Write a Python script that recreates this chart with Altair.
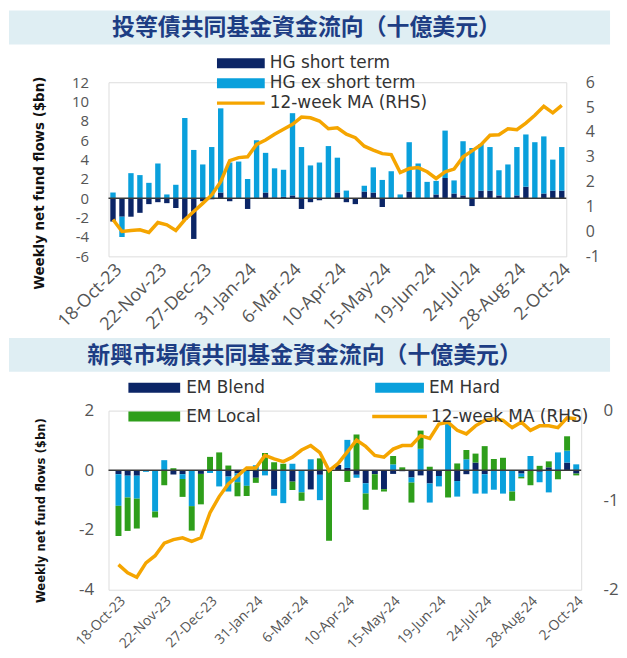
import altair as alt
import pandas as pd

# ---------------- data ----------------
dates = pd.date_range("2023-10-18", periods=51, freq="7D")
date_labels = [f"{d.day}-{d.strftime('%b')}-{d.strftime('%y')}" for d in dates]
tick_labels = date_labels[::5]

hg_short = [-2.4, -1.9, -1.9, -1.5, -0.6, -0.4, -0.5, -1.0, -2.2, -4.2,
            -0.3, -0.1, 0.6, -0.3, 0.0, -1.1, 0.0, 0.6, 0.1, 0.15,
            0.3, -1.1, -0.4, -0.2, 0.0, 0.6, -0.4, -0.6, 0.7, 0.6,
            -0.9, 0.0, 0.0, 0.7, 0.0, 0.0, 0.4, 2.1, 0.5, 0.3,
            -0.8, 0.8, 0.8, 0.3, 0.0, 0.3, 1.2, 0.0, 0.5, 0.8, 0.8]
hg_ex = [0.6, -2.1, 2.6, 2.4, 1.6, 3.6, 0.4, 1.4, 8.3, 5.0,
         3.5, 5.3, 8.7, 3.7, 3.8, 2.0, 6.0, 4.1, 3.0, 2.8,
         8.5, 5.3, 3.4, 3.7, 5.4, 3.6, 0.8, 0.0, 0.6, 2.6,
         1.9, 2.8, 0.4, 5.1, 3.6, 1.7, 1.4, 4.9, 1.35, 5.6,
         5.2, 4.8, 4.5, 2.6, 3.5, 5.0, 5.4, 5.8, 5.9, 3.2, 4.5]
hg_ma = [0.48, 0.0, 0.04, 0.07, -0.04, 0.36, 0.27, 0.04, 0.47, 0.8,
         1.13, 1.47, 2.0, 2.85, 2.97, 3.0, 3.5, 3.68, 3.91, 4.11,
         4.31, 4.6, 4.57, 4.44, 4.13, 4.17, 3.91, 3.77, 3.43, 3.27,
         3.13, 3.09, 2.37, 2.53, 2.57, 2.4, 2.13, 2.4, 2.51, 3.0,
         3.24, 3.49, 3.87, 3.89, 4.13, 4.09, 4.36, 4.67, 5.03, 4.77, 5.07]

em_blend = [-0.13, -0.18, -0.18, 0.0, 0.0, 0.0, -0.14, -0.13, 0.0, -0.12,
            0.0, 0.0, -0.21, -0.1, 0.0, -0.25, 0.0, -0.63, 0.0, -0.38,
            0.0, -0.64, -0.15, 0.0, 0.18, 0.08, -0.15, -0.43, -0.13, -0.63,
            -0.12, -0.03, -0.24, -0.17, -0.44, -0.19, 0.0, -0.36, -0.13, 0.26,
            -0.13, 0.0, 0.0, 0.0, -0.11, 0.0, -0.05, 0.1, 0.0, 0.26, -0.11]
em_hard = [-1.06, -0.73, -0.77, -0.05, -1.38, 0.34, 0.0, -0.16, -1.2, 0.0,
           -0.09, -0.54, -0.5, -0.3, -0.52, 0.17, -0.17, -0.22, -1.1, 0.22,
           -0.74, 0.37, -0.85, 0.0, 0.0, 0.94, -0.1, -0.35, 0.0, 0.0,
           0.2, 0.0, -0.17, 0.72, -0.64, -0.35, 1.6, -0.52, 0.37, -0.78,
           -0.65, -0.65, -0.78, -0.71, -0.11, 0.48, -0.35, -0.74, 0.6, 0.4, 0.2]
em_local = [-1.01, -1.12, -1.0, 0.0, -0.2, -0.5, 0.07, -0.6, -0.82, -1.02,
            0.45, 0.6, 0.16, -0.47, -0.34, -0.17, 0.58, 0.27, 0.22, -0.28,
            -0.28, 0.0, 0.4, -2.36, 0.0, -0.39, 1.2, -0.54, -0.52, -0.08,
            0.28, 0.1, -0.67, 0.61, 0.12, 0.0, -0.91, 0.23, 0.31, 0.3,
            0.81, 0.38, 0.42, -0.31, -0.05, -0.5, 0.15, 0.2, -0.3, 0.48, -0.06]
em_ma = [-1.72, -1.81, -1.86, -1.70, -1.62, -1.48, -1.44, -1.42, -1.46, -1.42,
         -1.14, -0.96, -0.82, -0.73, -0.64, -0.64, -0.5, -0.54, -0.57, -0.52,
         -0.44, -0.39, -0.47, -0.67, -0.59, -0.46, -0.33, -0.4, -0.5, -0.52,
         -0.43, -0.39, -0.39, -0.28, -0.31, -0.15, -0.13, -0.22, -0.26, -0.17,
         -0.11, -0.09, -0.11, -0.19, -0.13, -0.22, -0.17, -0.17, -0.19, -0.08, -0.09]

hg_series = ["HG short term", "HG ex short term"]
em_series = ["EM Blend", "EM Hard", "EM Local"]
title_top = "投等債共同基金資金流向（十億美元）"
title_bottom = "新興市場債共同基金資金流向（十億美元）"

# ---------------- styles ----------------
NAVY = "#0b2566"
LIGHT = "#0aa0dc"
GREEN = "#2e9e1b"
ORANGE = "#f5a500"
BANNER = "#dfeef3"
TITLE_C = "#1d3d84"
LAB_C = "#555555"
FONT = "Open Sans"
LFONT = "DejaVu Sans"
TFONT = "Liberation Sans Narrow, DejaVu Sans Condensed, Roboto, sans-serif"

rows1 = []
for i, d in enumerate(date_labels):
    rows1.append({"date": d, "series": hg_series[0], "value": hg_short[i], "ord": 0})
    rows1.append({"date": d, "series": hg_series[1], "value": hg_ex[i], "ord": 1})
df1 = pd.DataFrame(rows1)
ma1 = pd.DataFrame({"date": date_labels, "ma": hg_ma})

rows2 = []
for i, d in enumerate(date_labels):
    rows2.append({"date": d, "series": em_series[0], "value": em_blend[i], "ord": 0})
    rows2.append({"date": d, "series": em_series[1], "value": em_hard[i], "ord": 1})
    rows2.append({"date": d, "series": em_series[2], "value": em_local[i], "ord": 2})
df2 = pd.DataFrame(rows2)
ma2 = pd.DataFrame({"date": date_labels, "ma": em_ma})

one = pd.DataFrame({"a": [0]})
zero = pd.DataFrame({"v": [0]})


def xaxis(fs):
    return alt.Axis(values=tick_labels, labelAngle=-45, labelFontSize=fs, labelFont=FONT,
                    labelColor=LAB_C, ticks=False, domain=False, labelPadding=4, title=None)


def banner(x0, x1, y0, y1, text, tx):
    r = alt.Chart(one).mark_rect(color=BANNER).encode(
        x=alt.value(x0), x2=alt.value(x1), y=alt.value(y0), y2=alt.value(y1))
    t = alt.Chart(one).mark_text(fontSize=23, fontWeight="bold", color=TITLE_C,
                                 font="Noto Sans CJK TC", align="center", baseline="middle").encode(
        x=alt.value(tx), y=alt.value((y0 + y1) / 2 + 1), text=alt.value(text))
    return r + t


def swatch(x0, x1, yc, color, label, tx, fs=17, font=LFONT, h=10):
    r = alt.Chart(one).mark_rect(color=color).encode(
        x=alt.value(x0), x2=alt.value(x1), y=alt.value(yc - h / 2), y2=alt.value(yc + h / 2))
    t = alt.Chart(one).mark_text(fontSize=fs, font=font, color="#333333", align="left",
                                 baseline="middle").encode(
        x=alt.value(tx), y=alt.value(yc), text=alt.value(label))
    return r + t


def line_sw(x0, x1, yc, label, tx, fs=17, font=LFONT):
    r = alt.Chart(one).mark_rule(color=ORANGE, strokeWidth=3.5).encode(
        x=alt.value(x0), x2=alt.value(x1), y=alt.value(yc))
    t = alt.Chart(one).mark_text(fontSize=fs, font=font, color="#333333", align="left",
                                 baseline="middle").encode(
        x=alt.value(tx), y=alt.value(yc), text=alt.value(label))
    return r + t


# ---------------- top chart ----------------
W1, H1 = 460, 175
x1 = alt.X("date:O", sort=date_labels,
           scale=alt.Scale(paddingInner=0.4, paddingOuter=0.2), axis=xaxis(18))

bars1 = alt.Chart(df1).mark_bar().encode(
    x=x1,
    y=alt.Y("value:Q", stack="zero", scale=alt.Scale(domain=[-6, 12], nice=False, zero=False),
            axis=alt.Axis(orient="left", values=list(range(-6, 13, 2)), labelFontSize=15,
                          labelFont=FONT, labelColor=LAB_C, ticks=False, domain=False, grid=False,
                          labelPadding=20, title="Weekly net fund flows ($bn)", titleFont=TFONT,
                          titleFontSize=15, titleFontWeight="bold", titleColor="#111111",
                          titleX=-70, titleY=101, titleAlign="center", titleBaseline="middle",
                          labelExpr="datum.value + ''")),
    color=alt.Color("series:N", scale=alt.Scale(domain=hg_series, range=[NAVY, LIGHT]), legend=None),
    order=alt.Order("ord:Q", sort="ascending"),
)
rule1 = alt.Chart(zero).mark_rule(color="#3a3a3a", strokeWidth=1.5).encode(
    y=alt.Y("v:Q", scale=alt.Scale(domain=[-6, 12], nice=False), axis=None),
    x=alt.value(0), x2=alt.value(W1))
line1 = alt.Chart(ma1).mark_line(color=ORANGE, strokeWidth=3.5).encode(
    x=x1,
    y=alt.Y("ma:Q", scale=alt.Scale(domain=[-1, 6], nice=False, zero=False),
            axis=alt.Axis(orient="right", values=list(range(-1, 7)), labelFontSize=16,
                          labelFont=FONT, labelColor=LAB_C, ticks=False, domain=False, grid=False,
                          labelPadding=19, title=None, labelExpr="datum.value + ''")))

leg1 = (swatch(109, 157, -19, NAVY, "HG short term", 162)
        + swatch(109, 157, 1, LIGHT, "HG ex short term", 162)
        + line_sw(109, 157, 21, "12-week MA (RHS)", 162))

top = alt.layer(
    banner(-100, 504, -72, -38, title_top, 199),
    bars1, rule1, line1, leg1,
).resolve_scale(y="independent").properties(width=W1, height=H1)

# ---------------- bottom chart ----------------
W2, H2 = 475, 180
x2 = alt.X("date:O", sort=date_labels,
           scale=alt.Scale(paddingInner=0.35, paddingOuter=0.49, align=0.78), axis=xaxis(14))

bars2 = alt.Chart(df2).mark_bar().encode(
    x=x2,
    y=alt.Y("value:Q", stack="zero", scale=alt.Scale(domain=[-4, 2], nice=False, zero=False),
            axis=alt.Axis(orient="left", values=[-4, -2, 0, 2], labelFontSize=17,
                          labelFont=FONT, labelColor=LAB_C, ticks=False, domain=False, grid=False,
                          labelPadding=15, title="Weekly net fund flows ($bn)", titleFont=TFONT,
                          titleFontSize=13, titleFontWeight="bold", titleColor="#111111",
                          titleX=-68, titleY=100, titleAlign="center", titleBaseline="middle",
                          labelExpr="datum.value + ''")),
    color=alt.Color("series:N", scale=alt.Scale(domain=em_series, range=[NAVY, LIGHT, GREEN]),
                    legend=None),
    order=alt.Order("ord:Q", sort="ascending"),
)
rule2 = alt.Chart(zero).mark_rule(color="#3a3a3a", strokeWidth=1.5).encode(
    y=alt.Y("v:Q", scale=alt.Scale(domain=[-4, 2], nice=False), axis=None),
    x=alt.value(0), x2=alt.value(W2))
line2 = alt.Chart(ma2).mark_line(color=ORANGE, strokeWidth=3.5).encode(
    x=x2,
    y=alt.Y("ma:Q", scale=alt.Scale(domain=[-2, 0], nice=False, zero=False),
            axis=alt.Axis(orient="right", values=[-2, -1, 0], labelFontSize=17,
                          labelFont=FONT, labelColor=LAB_C, ticks=False, domain=False, grid=False,
                          labelPadding=22, title=None, labelExpr="datum.value + ''")))

leg2 = (swatch(20, 72, -23, NAVY, "EM Blend", 78)
        + swatch(268, 317, -23, LIGHT, "EM Hard", 322)
        + swatch(20, 72, 6, GREEN, "EM Local", 78)
        + line_sw(265, 320, 6, "12-week MA (RHS)", 324))

bottom = alt.layer(
    banner(-100, 504, -73, -39, title_bottom, 197),
    bars2, rule2, line2, leg2,
).resolve_scale(y="independent").properties(width=W2, height=H2)

chart = alt.vconcat(top, bottom, spacing=1).resolve_scale(
    color="independent", x="independent").properties(padding=0).configure_view(
    stroke=None).configure(background="white")

chart.save("out.html", embed_options={"renderer": "svg", "actions": False})
